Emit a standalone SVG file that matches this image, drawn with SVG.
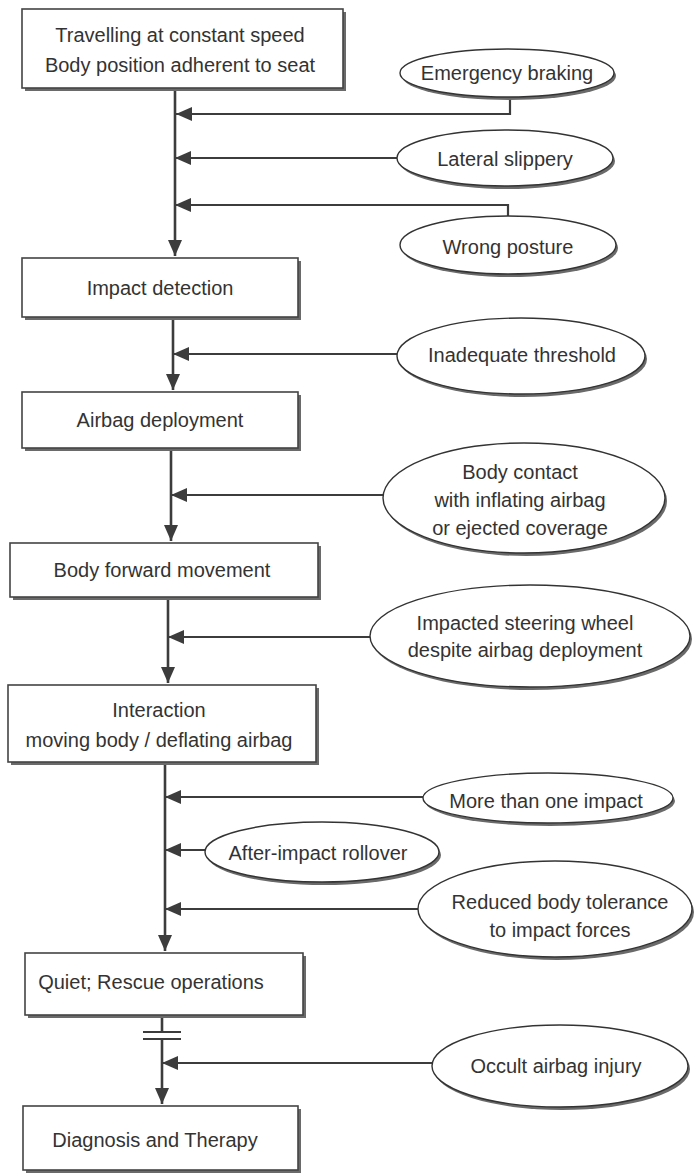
<svg xmlns="http://www.w3.org/2000/svg" width="699" height="1175" viewBox="0 0 699 1175">
<style>
.bx{fill:#fff;stroke:#444;stroke-width:1.6}
.sh{fill:#6a6a6a}
.el{fill:#fff;stroke:#333;stroke-width:1.4}
.t{font-family:"Liberation Sans",Arial,sans-serif;font-size:20px;fill:#333;text-anchor:middle}
.ln{fill:none;stroke:#3c3c3c;stroke-width:2.2}
.vl{fill:none;stroke:#3c3c3c;stroke-width:2.6}
</style>
<defs>
<marker id="ah" markerUnits="userSpaceOnUse" markerWidth="17" markerHeight="14" refX="16" refY="7" orient="auto">
<path d="M0,0 L16,7 L0,14 z" fill="#3c3c3c"/>
</marker>
</defs>
<rect width="699" height="1175" fill="#fff"/>

<g id="connectors">
<path class="vl" d="M175,89 V256" marker-end="url(#ah)"/>
<path class="vl" d="M173,318 V390" marker-end="url(#ah)"/>
<path class="vl" d="M171,449 V541" marker-end="url(#ah)"/>
<path class="vl" d="M168,598 V683" marker-end="url(#ah)"/>
<path class="vl" d="M165,764 V951" marker-end="url(#ah)"/>
<path class="vl" d="M162,1016 V1032"/>
<path class="vl" d="M162,1039 V1104" marker-end="url(#ah)"/>
<path class="ln" d="M143,1032 H181 M143,1039 H181"/>
<path class="ln" d="M510,97 V114 H176" marker-end="url(#ah)"/>
<path class="ln" d="M397,158 H175" marker-end="url(#ah)"/>
<path class="ln" d="M508,217 V205 H175" marker-end="url(#ah)"/>
<path class="ln" d="M397,354 H173" marker-end="url(#ah)"/>
<path class="ln" d="M383,495 H171" marker-end="url(#ah)"/>
<path class="ln" d="M370,637 H168" marker-end="url(#ah)"/>
<path class="ln" d="M423,797 H165" marker-end="url(#ah)"/>
<path class="ln" d="M205,850 H165" marker-end="url(#ah)"/>
<path class="ln" d="M418,909 H165" marker-end="url(#ah)"/>
<path class="ln" d="M433,1063 H162" marker-end="url(#ah)"/>
</g>

<g id="n1">
<rect class="sh" x="25" y="12" width="321" height="79"/>
<rect class="bx" x="22" y="9" width="321" height="79"/>
<text class="t" x="180" y="42">Travelling at constant speed</text>
<text class="t" x="180" y="72">Body position adherent to seat</text>
</g>
<g id="e1">
<ellipse class="sh" cx="509" cy="76" rx="107" ry="24"/>
<ellipse class="el" cx="507" cy="73" rx="107" ry="24"/>
<text class="t" x="507" y="80">Emergency braking</text>
</g>
<g id="e2">
<ellipse class="sh" cx="507" cy="161" rx="108" ry="28"/>
<ellipse class="el" cx="505" cy="158" rx="108" ry="28"/>
<text class="t" x="505" y="166">Lateral slippery</text>
</g>
<g id="e3">
<ellipse class="sh" cx="510" cy="248" rx="108" ry="29"/>
<ellipse class="el" cx="508" cy="245" rx="108" ry="29"/>
<text class="t" x="508" y="254">Wrong posture</text>
</g>
<g id="n2">
<rect class="sh" x="25" y="261" width="276" height="59"/>
<rect class="bx" x="22" y="258" width="276" height="59"/>
<text class="t" x="160" y="295">Impact detection</text>
</g>
<g id="e4">
<ellipse class="sh" cx="523" cy="359" rx="124" ry="38"/>
<ellipse class="el" cx="521" cy="356" rx="124" ry="38"/>
<text class="t" x="522" y="362">Inadequate threshold</text>
</g>
<g id="n3">
<rect class="sh" x="25" y="395" width="276" height="56"/>
<rect class="bx" x="22" y="392" width="276" height="56"/>
<text class="t" x="160" y="427">Airbag deployment</text>
</g>
<g id="e5">
<ellipse class="sh" cx="526" cy="501" rx="141" ry="55"/>
<ellipse class="el" cx="524" cy="498" rx="141" ry="55"/>
<text class="t" x="520" y="479">Body contact</text>
<text class="t" x="520" y="507">with inflating airbag</text>
<text class="t" x="520" y="535">or ejected coverage</text>
</g>
<g id="n4">
<rect class="sh" x="13" y="546" width="308" height="54"/>
<rect class="bx" x="10" y="543" width="308" height="54"/>
<text class="t" x="162" y="577">Body forward movement</text>
</g>
<g id="e6">
<ellipse class="sh" cx="532" cy="639" rx="160" ry="51"/>
<ellipse class="el" cx="530" cy="636" rx="160" ry="51"/>
<text class="t" x="525" y="630">Impacted steering wheel</text>
<text class="t" x="525" y="657">despite airbag deployment</text>
</g>
<g id="n5">
<rect class="sh" x="11" y="688" width="308" height="77"/>
<rect class="bx" x="8" y="685" width="308" height="77"/>
<text class="t" x="159" y="717">Interaction</text>
<text class="t" x="159" y="747">moving body / deflating airbag</text>
</g>
<g id="e7">
<ellipse class="sh" cx="550" cy="801" rx="125" ry="25"/>
<ellipse class="el" cx="548" cy="798" rx="125" ry="25"/>
<text class="t" x="546" y="808">More than one impact</text>
</g>
<g id="e8">
<ellipse class="sh" cx="324" cy="855" rx="117" ry="30"/>
<ellipse class="el" cx="322" cy="852" rx="117" ry="30"/>
<text class="t" x="318" y="860">After-impact rollover</text>
</g>
<g id="e9">
<ellipse class="sh" cx="557" cy="912" rx="137" ry="48"/>
<ellipse class="el" cx="555" cy="909" rx="137" ry="48"/>
<text class="t" x="560" y="909">Reduced body tolerance</text>
<text class="t" x="560" y="937">to impact forces</text>
</g>
<g id="n6">
<rect class="sh" x="28" y="956" width="278" height="62"/>
<rect class="bx" x="25" y="953" width="278" height="62"/>
<text class="t" x="151" y="989">Quiet; Rescue operations</text>
</g>
<g id="e10">
<ellipse class="sh" cx="562" cy="1069" rx="128" ry="41"/>
<ellipse class="el" cx="560" cy="1066" rx="128" ry="41"/>
<text class="t" x="556" y="1073">Occult airbag injury</text>
</g>
<g id="n7">
<rect class="sh" x="26" y="1109" width="275" height="64"/>
<rect class="bx" x="23" y="1106" width="275" height="64"/>
<text class="t" x="155" y="1147">Diagnosis and Therapy</text>
</g>
</svg>
